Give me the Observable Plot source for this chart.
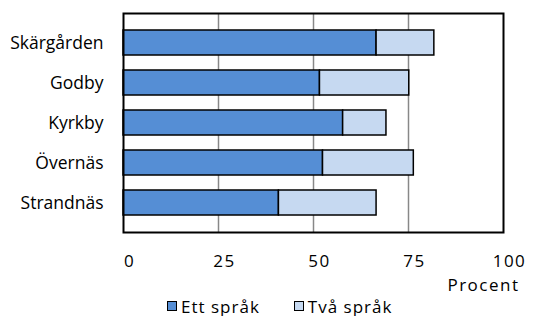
<!DOCTYPE html>
<html><head><meta charset="utf-8">
<script src="https://cdn.jsdelivr.net/npm/d3@7"></script>
<script src="https://cdn.jsdelivr.net/npm/@observablehq/plot@0.6"></script>
<style>
body{margin:0;background:#fff;font-family:"Open Sans",sans-serif;}
#legend{display:flex;gap:34px;padding-left:167px;font-size:17px;letter-spacing:1px;color:#000;height:20px;align-items:center;margin-top:0px}
.it{display:flex;align-items:center;gap:4px}
.sw{width:10px;height:10px;border:1.5px solid #000;box-sizing:border-box}
</style></head><body>
<div id="chart"></div>
<div id="legend"></div>
<script>
const categories = ["Skärgården","Godby","Kyrkby","Övernäs","Strandnäs"];
const series = ["Ett språk","Två språk"];
const ettSprak = [66.6, 51.7, 57.8, 52.5, 40.9];
const tvaSprak = [15.2, 23.5, 11.4, 23.9, 25.7];
const xTicks = [0,25,50,75,100];
const colors = ["#558ED5","#C6D9F1"];

const data = [];
categories.forEach((c,i)=>{
  data.push({cat:c, s:series[0], v:ettSprak[i]});
  data.push({cat:c, s:series[1], v:tvaSprak[i]});
});

const plot = Plot.plot({
  width:535, height:296,
  marginLeft:123, marginRight:32, marginTop:13, marginBottom:64,
  style:{fontFamily:"Open Sans, sans-serif", fontSize:"17px", color:"#000", background:"#fff"},
  x:{domain:[0,100], ticks:xTicks},
  y:{domain:categories, padding:0.37},
  color:{domain:series, range:colors},
  marks:[
    Plot.gridX([25,50,75], {stroke:"#888", strokeOpacity:1, strokeWidth:1.5}),
    Plot.barX(data, Plot.stackX({x:"v", y:"cat", fill:"s", order:series, stroke:"#000", strokeWidth:1.5})),
    Plot.frame({stroke:"#000", strokeWidth:2}),
    Plot.axisX({ticks:xTicks, tickSize:0, tickPadding:22, dx:6, label:null, fontSize:17}),
    Plot.axisY({tickSize:0, tickPadding:20, label:null, fontSize:17.5}),
    Plot.text(["Procent"], {frameAnchor:"bottom-right", dy:58, dx:16, fontSize:17, textAnchor:"end"})
  ]
});
d3.select(plot).selectAll('g[aria-label="x-axis tick label"] text, g[aria-label="text"] text')
  .style("letter-spacing","1.5px");
document.getElementById("chart").appendChild(plot);
const lg = document.getElementById("legend");
series.forEach((s,i)=>{
  const it=document.createElement("div"); it.className="it";
  const sw=document.createElement("div"); sw.className="sw"; sw.style.background=colors[i];
  const t=document.createElement("span"); t.textContent=s;
  it.appendChild(sw); it.appendChild(t); lg.appendChild(it);
});
</script>
</body></html>
